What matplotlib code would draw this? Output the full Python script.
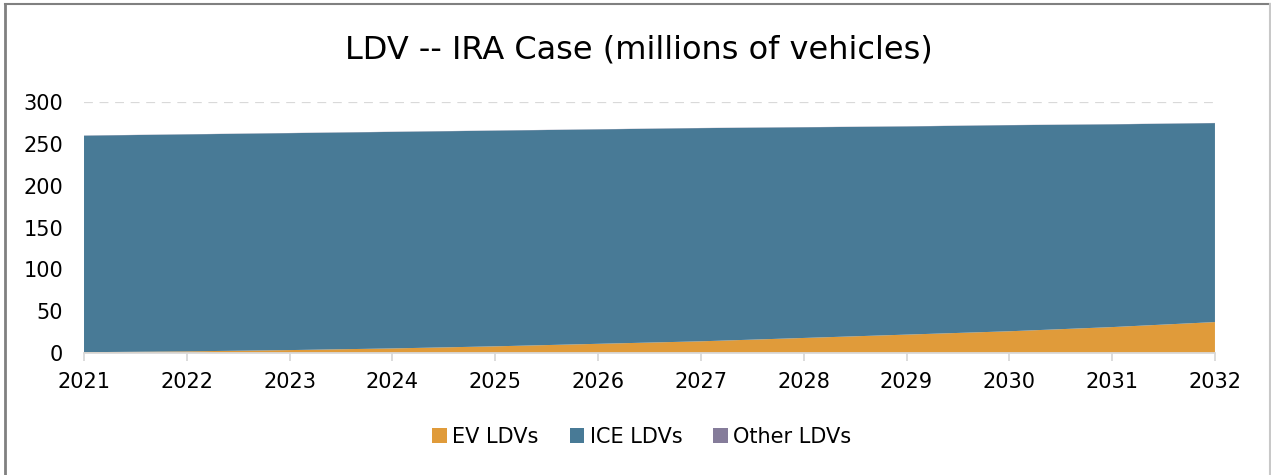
import numpy as np
import matplotlib.pyplot as plt
from matplotlib.lines import Line2D
from matplotlib.patches import Patch

# ---------- Данные ----------
years = [2021, 2022, 2023, 2024, 2025, 2026, 2027, 2028, 2029, 2030, 2031, 2032]
ev_ldv = [1.0, 2.0, 3.5, 5.5, 8.0, 11.0, 14.0, 18.0, 22.0, 26.0, 31.0, 37.0]
ice_ldv = [258.8, 259.3, 259.3, 258.8, 257.8, 256.3, 254.8, 251.8, 248.8, 246.3, 242.3, 237.8]
other_ldv = [0.2, 0.2, 0.2, 0.2, 0.2, 0.2, 0.2, 0.2, 0.2, 0.2, 0.2, 0.2]

c_ev = '#E09B3A'
c_ice = '#487A96'
c_other = '#857C9A'

fig = plt.figure(figsize=(12.71, 4.75), dpi=100)
ax = fig.add_axes([0.0661, 0.2568, 0.8898, 0.5284])

ax.stackplot(years, ev_ldv, ice_ldv, other_ldv, colors=[c_ev, c_ice, c_other],
             edgecolor='none', zorder=2)

ax.set_xlim(years[0], years[-1])
ax.set_ylim(0, 300)
ax.set_xticks(years)
ax.set_yticks(range(0, 301, 50))
ax.yaxis.grid(True, color='#D9D9D9', linestyle=(0, (4, 3)), linewidth=1.6, zorder=1)
ax.set_axisbelow(True)

for s in ['top', 'right', 'left']:
    ax.spines[s].set_visible(False)
ax.spines['bottom'].set_color('#D9D9D9')
ax.spines['bottom'].set_linewidth(1.3)
ax.spines['bottom'].set_zorder(3)

ax.tick_params(axis='x', length=6, width=1.3, color='#D9D9D9', labelsize=15, pad=8)
ax.tick_params(axis='y', length=0, labelsize=15, pad=15)

fig.text(0.503, 0.895, 'LDV -- IRA Case (millions of vehicles)', ha='center', va='center',
         fontsize=23)

handles = [Patch(facecolor=c_ev), Patch(facecolor=c_ice), Patch(facecolor=c_other)]
fig.legend(handles, ['EV LDVs', 'ICE LDVs', 'Other LDVs'], loc='center',
           bbox_to_anchor=(0.505, 0.08), ncol=3, frameon=False, fontsize=15,
           handlelength=0.7, handleheight=0.7, handletextpad=0.25, columnspacing=1.5)

# рамка
fig.add_artist(Line2D([0.004, 0.004], [0, 0.992], transform=fig.transFigure, color='#808080', lw=2))
fig.add_artist(Line2D([0.004, 0.999], [0.992, 0.992], transform=fig.transFigure, color='#808080', lw=1.5))
fig.add_artist(Line2D([0.999, 0.999], [0, 0.992], transform=fig.transFigure, color='#C8C8C8', lw=1.5))

fig.savefig('out.png', dpi=100)
